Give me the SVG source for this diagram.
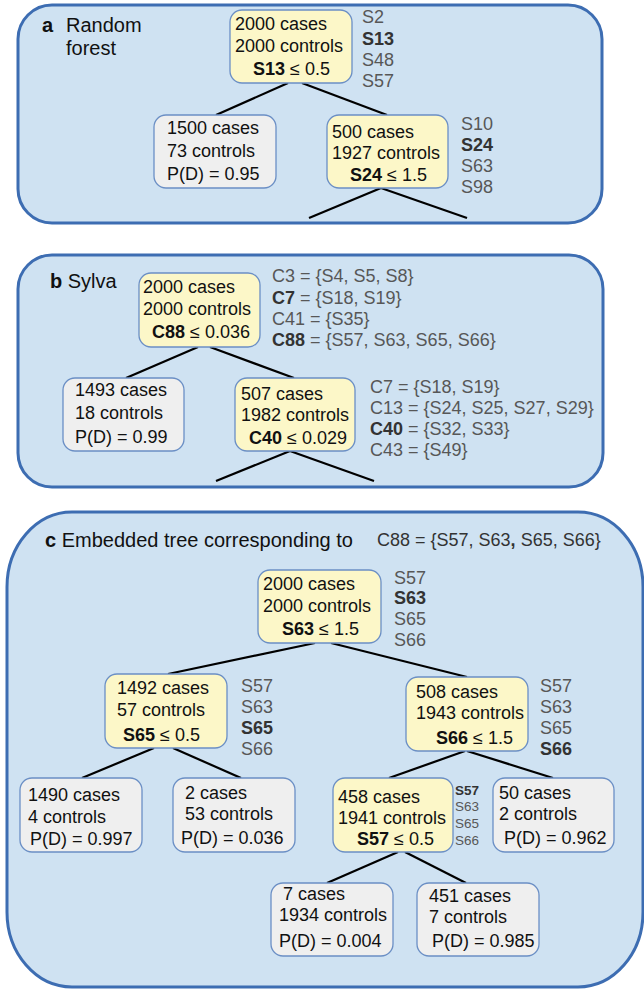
<svg xmlns="http://www.w3.org/2000/svg" width="644" height="989" viewBox="0 0 644 989">
  <style>
    text { font-family: "Liberation Sans", Arial, sans-serif; font-size: 18px; fill: #111; }
    .panel { fill: #cfe2f2; stroke: #3d6db2; stroke-width: 3; }
    .split { fill: #fcf7c8; stroke: #6b8fc5; stroke-width: 1.3; }
    .leaf { fill: #efefef; stroke: #6b8fc5; stroke-width: 1.3; }
    .side text { fill: #575757; }
    .b { font-weight: bold; }
    .side text.b, .side .b { fill: #333; }
    .title { font-size: 20px; }
    .small text { font-size: 13.5px; }
    .edges line { stroke: #000; stroke-width: 2.2; }
  </style>

  <!-- panel backgrounds -->
  <rect class="panel" x="18" y="5" width="584" height="218" rx="34" ry="34"/>
  <rect class="panel" x="18" y="255" width="585" height="232" rx="34" ry="34"/>
  <rect class="panel" x="7" y="512" width="636" height="475" rx="65" ry="75"/>

  <!-- panel titles -->
  <g id="title-a">
    <text x="42" y="32" class="title b">a</text>
    <text x="66" y="32" class="title">Random</text>
    <text x="66" y="55" class="title">forest</text>
  </g>
  <g id="title-b">
    <text x="50" y="288" class="title"><tspan class="b">b</tspan> Sylva</text>
  </g>
  <g id="title-c">
    <text x="45" y="547" class="title"><tspan class="b">c</tspan>  Embedded tree corresponding to</text>
    <text x="377" y="546" style="fill:#333">C88 = {S57, S63<tspan class="b">,</tspan> S65, S66}</text>
  </g>

  <!-- connectors -->
  <g id="connectors" class="edges">
    <!-- a -->
    <line x1="288" y1="83" x2="216" y2="115"/>
    <line x1="302" y1="83" x2="387" y2="115"/>
    <line x1="381" y1="188" x2="309" y2="218"/>
    <line x1="381" y1="188" x2="467" y2="218"/>
    <!-- b -->
    <line x1="198" y1="347" x2="126" y2="378"/>
    <line x1="210" y1="347" x2="294" y2="378"/>
    <line x1="290" y1="451" x2="216" y2="481"/>
    <line x1="290" y1="451" x2="374" y2="481"/>
    <!-- c -->
    <line x1="315" y1="643" x2="168" y2="674"/>
    <line x1="331" y1="643" x2="467" y2="677"/>
    <line x1="154" y1="748" x2="82" y2="778"/>
    <line x1="173" y1="748" x2="241" y2="778"/>
    <line x1="465" y1="751" x2="389" y2="778"/>
    <line x1="467" y1="751" x2="553" y2="778"/>
    <line x1="398" y1="852" x2="327" y2="883"/>
    <line x1="405" y1="852" x2="466" y2="883"/>
  </g>

  <!-- panel a: random forest -->
  <g id="a-root">
    <rect class="split" x="230" y="10" width="122" height="73" rx="12"/>
    <text x="235" y="30">2000 cases</text>
    <text x="235" y="52">2000 controls</text>
    <text x="253" y="75"><tspan class="b">S13</tspan> ≤ 0.5</text>
    <g class="side">
      <text x="362" y="23">S2</text>
      <text x="362" y="45" class="b">S13</text>
      <text x="362" y="66">S48</text>
      <text x="362" y="87">S57</text>
    </g>
  </g>
  <g id="a-leaf">
    <rect class="leaf" x="154" y="115" width="122" height="73" rx="12"/>
    <text x="167" y="134">1500 cases</text>
    <text x="167" y="157">73 controls</text>
    <text x="167" y="180">P(D) = 0.95</text>
  </g>
  <g id="a-split">
    <rect class="split" x="327" y="115" width="121" height="73" rx="12"/>
    <text x="332" y="138">500 cases</text>
    <text x="332" y="159">1927 controls</text>
    <text x="350" y="181"><tspan class="b">S24</tspan> ≤ 1.5</text>
    <g class="side">
      <text x="461" y="130">S10</text>
      <text x="461" y="151" class="b">S24</text>
      <text x="461" y="172">S63</text>
      <text x="461" y="193">S98</text>
    </g>
  </g>

  <!-- panel b: sylva -->
  <g id="b-root">
    <rect class="split" x="139" y="273" width="121" height="74" rx="12"/>
    <text x="143" y="293">2000 cases</text>
    <text x="143" y="315">2000 controls</text>
    <text x="152" y="338"><tspan class="b">C88</tspan> ≤ 0.036</text>
    <g class="side">
      <text x="272" y="282">C3 = {S4, S5, S8}</text>
      <text x="272" y="304"><tspan class="b">C7</tspan> = {S18, S19}</text>
      <text x="272" y="325">C41 = {S35}</text>
      <text x="272" y="346"><tspan class="b">C88</tspan> = {S57, S63, S65, S66}</text>
    </g>
  </g>
  <g id="b-leaf">
    <rect class="leaf" x="63" y="378" width="121" height="73" rx="12"/>
    <text x="75" y="396">1493 cases</text>
    <text x="75" y="419">18 controls</text>
    <text x="75" y="443">P(D) = 0.99</text>
  </g>
  <g id="b-split">
    <rect class="split" x="235" y="378" width="120" height="73" rx="12"/>
    <text x="241" y="400">507 cases</text>
    <text x="241" y="421">1982 controls</text>
    <text x="249" y="444"><tspan class="b">C40</tspan> ≤ 0.029</text>
    <g class="side">
      <text x="370" y="393">C7 = {S18, S19}</text>
      <text x="370" y="414">C13 = {S24, S25, S27, S29}</text>
      <text x="370" y="435"><tspan class="b">C40</tspan> = {S32, S33}</text>
      <text x="370" y="456">C43 = {S49}</text>
    </g>
  </g>

  <!-- panel c: embedded tree -->
  <g id="c-root">
    <rect class="split" x="258" y="570" width="123" height="73" rx="12"/>
    <text x="263" y="590">2000 cases</text>
    <text x="263" y="612">2000 controls</text>
    <text x="282" y="635"><tspan class="b">S63</tspan> ≤ 1.5</text>
    <g class="side">
      <text x="394" y="584">S57</text>
      <text x="394" y="604" class="b">S63</text>
      <text x="394" y="625">S65</text>
      <text x="394" y="646">S66</text>
    </g>
  </g>
  <g id="c-1492">
    <rect class="split" x="105" y="674" width="122" height="74" rx="12"/>
    <text x="117" y="694">1492 cases</text>
    <text x="117" y="716">57 controls</text>
    <text x="123" y="741"><tspan class="b">S65</tspan> ≤ 0.5</text>
    <g class="side">
      <text x="241" y="692">S57</text>
      <text x="241" y="713">S63</text>
      <text x="241" y="734" class="b">S65</text>
      <text x="241" y="755">S66</text>
    </g>
  </g>
  <g id="c-508">
    <rect class="split" x="406" y="677" width="122" height="74" rx="12"/>
    <text x="416" y="698">508 cases</text>
    <text x="416" y="719">1943 controls</text>
    <text x="436" y="744"><tspan class="b">S66</tspan> ≤ 1.5</text>
    <g class="side">
      <text x="540" y="692">S57</text>
      <text x="540" y="713">S63</text>
      <text x="540" y="734">S65</text>
      <text x="540" y="755" class="b">S66</text>
    </g>
  </g>
  <g id="c-1490">
    <rect class="leaf" x="20" y="778" width="122" height="74" rx="12"/>
    <text x="28" y="801">1490 cases</text>
    <text x="28" y="823">4 controls</text>
    <text x="30" y="845">P(D) = 0.997</text>
  </g>
  <g id="c-2">
    <rect class="leaf" x="173" y="778" width="122" height="74" rx="12"/>
    <text x="185" y="799">2 cases</text>
    <text x="185" y="820">53 controls</text>
    <text x="181" y="844">P(D) = 0.036</text>
  </g>
  <g id="c-458">
    <rect class="split" x="333" y="778" width="120" height="74" rx="12"/>
    <text x="338" y="803">458 cases</text>
    <text x="338" y="824">1941 controls</text>
    <text x="357" y="845"><tspan class="b">S57</tspan> ≤ 0.5</text>
    <g class="side small">
      <text x="455" y="795" class="b">S57</text>
      <text x="455" y="811">S63</text>
      <text x="455" y="828">S65</text>
      <text x="455" y="845">S66</text>
    </g>
  </g>
  <g id="c-50">
    <rect class="leaf" x="493" y="778" width="121" height="74" rx="12"/>
    <text x="499" y="799">50 cases</text>
    <text x="499" y="820">2 controls</text>
    <text x="504" y="844">P(D) = 0.962</text>
  </g>
  <g id="c-7">
    <rect class="leaf" x="271" y="883" width="122" height="73" rx="12"/>
    <text x="283" y="900">7 cases</text>
    <text x="279" y="921">1934 controls</text>
    <text x="279" y="947">P(D) = 0.004</text>
  </g>
  <g id="c-451">
    <rect class="leaf" x="417" y="883" width="122" height="73" rx="12"/>
    <text x="429" y="902">451 cases</text>
    <text x="429" y="923">7 controls</text>
    <text x="432" y="947">P(D) = 0.985</text>
  </g>
</svg>
